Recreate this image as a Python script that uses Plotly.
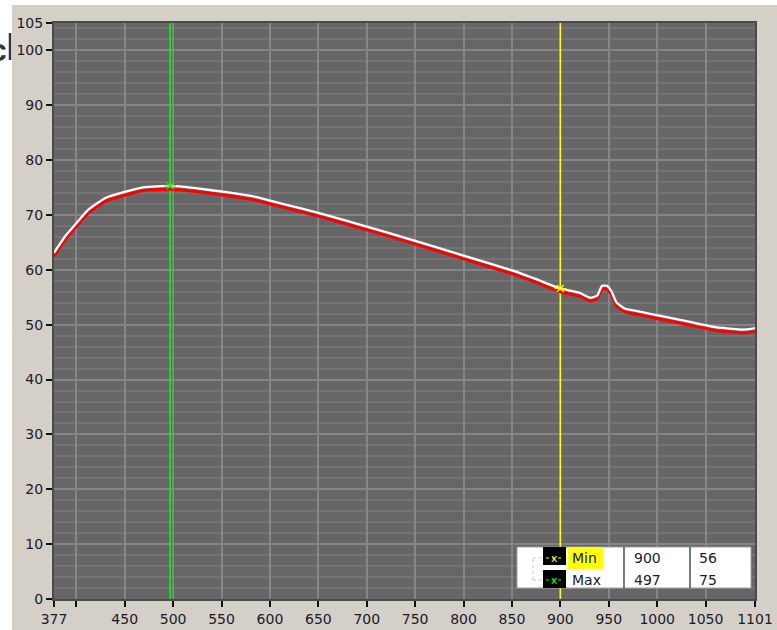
import plotly.graph_objects as go

# ---------------- data ----------------
wavelength = [377, 388, 400, 412, 430, 450, 471, 497, 523, 553, 585, 614, 650, 700,
              750, 800, 850, 875, 900, 920, 931, 938, 943, 948, 953, 958, 967, 982,
              1006, 1034, 1062, 1075, 1087, 1099, 1101]
signal = [63.1, 66.0, 68.5, 70.9, 73.1, 74.2, 75.1, 75.3, 74.9, 74.2, 73.3, 72.0, 70.4, 67.9,
          65.3, 62.6, 59.9, 58.3, 56.6, 55.8, 54.9, 55.3, 57.1, 57.1, 56.0, 54.0, 52.9, 52.4,
          51.5, 50.5, 49.5, 49.3, 49.1, 49.3, 49.4]

cursor_names = ["Min", "Max"]
cursor_x = [900, 497]
cursor_y = [56, 75]
cursor_marker_y = [56.6, 75.3]
cursor_colors = ["#ffff00", "#00ff00"]

x_tickvals = [377, 400, 450, 500, 550, 600, 650, 700, 750, 800, 850, 900, 950, 1000, 1050, 1101]
x_ticktext = ["377", "", "450", "500", "550", "600", "650", "700", "750", "800", "850",
              "900", "950", "1000", "1050", "1101"]
y_tickvals = [0, 10, 20, 30, 40, 50, 60, 70, 80, 90, 100, 105]
y_ticktext = [str(v) for v in y_tickvals]

# ---------------- layout geometry (pixels) ----------------
W, H = 777, 630
L, R, T, B = 54, 755, 23, 599


def px(x):
    return (x - L) / (R - L)


def py(y):
    return (B - y) / (B - T)


FONT = "DejaVu Sans"
shadow_offset = 0.6

fig = go.Figure()

# cursor lines
for cx, col in zip(cursor_x, cursor_colors):
    fig.add_trace(go.Scatter(x=[cx, cx], y=[0, 105], mode="lines",
                             line=dict(color=col, width=1.5), hoverinfo="skip",
                             showlegend=False))

# red shadow line
fig.add_trace(go.Scatter(x=wavelength, y=[v - shadow_offset for v in signal], mode="lines",
                         line=dict(color="#ff0000", width=3, shape="spline", smoothing=0.4),
                         showlegend=False))
# white line
fig.add_trace(go.Scatter(x=wavelength, y=signal, mode="lines",
                         line=dict(color="#ffffff", width=2.3, shape="spline", smoothing=0.4),
                         showlegend=False))

# cursor markers
for cx, cy, col in zip(cursor_x, cursor_marker_y, cursor_colors):
    fig.add_trace(go.Scatter(x=[cx - 6, cx + 6], y=[cy, cy], mode="lines",
                             line=dict(color=col, width=1), showlegend=False, hoverinfo="skip"))
    fig.add_trace(go.Scatter(x=[cx], y=[cy], mode="markers",
                             marker=dict(symbol="x-thin-open", size=7, color=col,
                                         line=dict(color=col, width=1.2)),
                             showlegend=False, hoverinfo="skip"))

shapes = []
annotations = []

# white page strips (top and left)
shapes.append(dict(type="rect", xref="paper", yref="paper", x0=px(0), x1=px(12),
                   y0=py(H), y1=py(0), fillcolor="#ffffff", line=dict(width=0), layer="below"))
shapes.append(dict(type="rect", xref="paper", yref="paper", x0=px(0), x1=px(W),
                   y0=py(5), y1=py(0), fillcolor="#ffffff", line=dict(width=0), layer="below"))
# fragment of title at left
annotations.append(dict(xref="paper", yref="paper", x=px(9), y=py(50), xanchor="right",
                        yanchor="middle", text="<b>c</b>", showarrow=False,
                        font=dict(family="Liberation Sans", size=32, color="#333333")))
shapes.append(dict(type="line", xref="paper", yref="paper", x0=px(10), x1=px(10),
                   y0=py(33), y1=py(60), line=dict(color="#333333", width=2.5)))

# cursor legend box
bx0, bx1, by0, by1 = 517, 751, 547, 588
shapes.append(dict(type="rect", xref="paper", yref="paper", x0=px(bx0), x1=px(bx1),
                   y0=py(by1), y1=py(by0), fillcolor="#ffffff",
                   line=dict(color="#a0a0a0", width=1)))
for dx in (624, 690):
    shapes.append(dict(type="line", xref="paper", yref="paper", x0=px(dx), x1=px(dx),
                       y0=py(by1), y1=py(by0), line=dict(color="#222222", width=1.2)))
# dotted tree lines
shapes.append(dict(type="line", xref="paper", yref="paper", x0=px(533), x1=px(533),
                   y0=py(580), y1=py(558), line=dict(color="#c8c8c8", width=1, dash="dot")))
for ry in (558, 580):
    shapes.append(dict(type="line", xref="paper", yref="paper", x0=px(533), x1=px(543),
                       y0=py(ry), y1=py(ry), line=dict(color="#c8c8c8", width=1, dash="dot")))
# highlight behind "Min"
shapes.append(dict(type="rect", xref="paper", yref="paper", x0=px(568), x1=px(603),
                   y0=py(569), y1=py(547), fillcolor="#ffff00", line=dict(width=0)))

row_tops = [547, 570]
row_centers = [558, 580]
for i, name in enumerate(cursor_names):
    col = cursor_colors[i]
    rt = row_tops[i]
    rc = row_centers[i]
    shapes.append(dict(type="rect", xref="paper", yref="paper", x0=px(543), x1=px(566),
                       y0=py(rt + 18), y1=py(rt), fillcolor="#000000", line=dict(width=0)))
    shapes.append(dict(type="line", xref="paper", yref="paper", x0=px(546), x1=px(563),
                       y0=py(rc), y1=py(rc), line=dict(color=col, width=1, dash="dot")))
    annotations.append(dict(xref="paper", yref="paper", x=px(554.5), y=py(rc), text="x",
                            showarrow=False, xanchor="center", yanchor="middle",
                            font=dict(family=FONT, size=11, color=col)))
    annotations.append(dict(xref="paper", yref="paper", x=px(570), y=py(rc), text=name,
                            showarrow=False, xanchor="left", yanchor="middle",
                            font=dict(family=FONT, size=14, color="#1a1a2a")))
    annotations.append(dict(xref="paper", yref="paper", x=px(632), y=py(rc),
                            text=str(cursor_x[i]), showarrow=False, xanchor="left",
                            yanchor="middle", font=dict(family=FONT, size=14, color="#1a1a2a")))
    annotations.append(dict(xref="paper", yref="paper", x=px(697), y=py(rc),
                            text=str(cursor_y[i]), showarrow=False, xanchor="left",
                            yanchor="middle", font=dict(family=FONT, size=14, color="#1a1a2a")))

fig.update_layout(
    width=W, height=H, autosize=False,
    margin=dict(l=L, r=W - R, t=T, b=H - B, pad=0, autoexpand=False),
    paper_bgcolor="#d4d0c8",
    plot_bgcolor="#666666",
    showlegend=False,
    shapes=shapes,
    annotations=annotations,
    font=dict(family=FONT, size=14, color="#1a1a2a"),
)
fig.update_xaxes(
    range=[377, 1101], tickmode="array", tickvals=x_tickvals, ticktext=x_ticktext,
    showgrid=True, gridcolor="#858585", gridwidth=2,
    ticks="outside", ticklen=6, tickwidth=2, tickcolor="#111111",
    showline=True, mirror=True, linecolor="#4a4a4a", linewidth=2,
    zeroline=False, tickfont=dict(family=FONT, size=14, color="#1a1a2a"),
)
fig.update_yaxes(
    range=[0, 105], tickmode="array", tickvals=y_tickvals, ticktext=y_ticktext,
    showgrid=True, gridcolor="#858585", gridwidth=2,
    minor=dict(dtick=2, tick0=0, showgrid=True, gridcolor="#737373", gridwidth=1.5, ticks=""),
    ticks="outside", ticklen=6, tickwidth=2, tickcolor="#111111",
    showline=True, mirror=True, linecolor="#4a4a4a", linewidth=2,
    zeroline=False, tickfont=dict(family=FONT, size=14, color="#1a1a2a"),
)

fig.write_html("out.html", config={"responsive": False})
